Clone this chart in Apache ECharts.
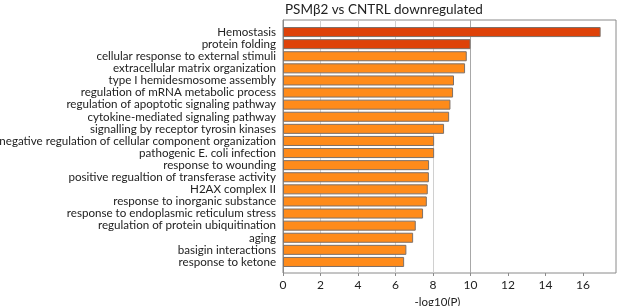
<!DOCTYPE html>
<html>
<head>
<meta charset="utf-8">
<script src="https://cdn.jsdelivr.net/npm/echarts@6/dist/echarts.min.js"></script>
<style>
  html, body { margin: 0; padding: 0; background: #fff; }
  #main { width: 617px; height: 306px; }
</style>
</head>
<body>
<div id="main"></div>
<script>
// terms, top to bottom
var terms = [
    'Hemostasis',
    'protein folding',
    'cellular response to external stimuli',
    'extracellular matrix organization',
    'type I hemidesmosome assembly',
    'regulation of mRNA metabolic process',
    'regulation of apoptotic signaling pathway',
    'cytokine-mediated signaling pathway',
    'signalling by receptor tyrosin kinases',
    'negative regulation of cellular component organization',
    'pathogenic E. coli infection',
    'response to wounding',
    'positive regualtion of transferase activity',
    'H2AX complex II',
    'response to inorganic substance',
    'response to endoplasmic reticulum stress',
    'regulation of protein ubiquitination',
    'aging',
    'basigin interactions',
    'response to ketone'
];
// -log10(P)
var logP = [16.94, 10.0, 9.8, 9.71, 9.12, 9.07, 8.93, 8.86, 8.59, 8.06,
            8.06, 7.79, 7.78, 7.72, 7.67, 7.47, 7.08, 6.94, 6.58, 6.46];
var xTicks = [0, 2, 4, 6, 8, 10, 12, 14, 16];
var xMax = 17.76;

var myChart = echarts.init(document.getElementById('main'));

var fontFam = 'Lato, "Open Sans", sans-serif';
var none = 'rgba(0,0,0,0)';

option = {
    animation: false,
    title: {
        text: 'PSMβ2 vs CNTRL downregulated',
        left: 280,
        top: -2,
        textStyle: {
            fontFamily: fontFam,
            fontSize: 13.5,
            fontWeight: 'normal',
            color: '#222'
        }
    },
    // grid 0: frame + value axis, grid 1: the bars
    grid: [{
        left: 283,
        right: 1,
        top: 20,
        bottom: 33,
        show: true,
        borderColor: '#8a8a8a',
        borderWidth: 1,
        outerBoundsMode: 'none'
    }, {
        left: 283,
        right: 1,
        top: 26,
        bottom: 38,
        outerBoundsMode: 'none'
    }],
    xAxis: [{
        gridIndex: 0,
        type: 'value',
        min: 0,
        max: xMax,
        interval: 2,
        name: '-log10(P)',
        nameLocation: 'middle',
        nameGap: 22,
        nameTextStyle: {
            fontFamily: fontFam,
            fontSize: 11.5,
            color: '#222',
            padding: [0, 24, 0, 0]
        },
        axisLine: { lineStyle: { color: '#8a8a8a' } },
        axisTick: { show: true, length: 3, lineStyle: { color: '#8a8a8a' } },
        axisLabel: {
            fontFamily: fontFam,
            fontSize: 12,
            color: '#222',
            margin: 6,
            showMaxLabel: false,
            formatter: function(v) {
                return xTicks.indexOf(v) >= 0 ? String(v) : '';
            }
        },
        splitLine: {
            show: true,
            lineStyle: {
                color: [none, '#d0d0d0', '#d0d0d0', '#d0d0d0', '#d0d0d0', '#a8a8a8',
                        none, none, none, none]
            }
        }
    }, {
        gridIndex: 1,
        type: 'value',
        min: 0,
        max: xMax,
        show: false
    }],
    yAxis: [{
        gridIndex: 0,
        type: 'category',
        data: [''],
        axisLine: { lineStyle: { color: '#8a8a8a' } },
        axisTick: { show: false },
        axisLabel: { show: false }
    }, {
        gridIndex: 1,
        type: 'category',
        data: terms,
        inverse: true,
        axisLine: { show: false },
        axisTick: { show: false },
        axisLabel: {
            fontFamily: fontFam,
            fontSize: 11.6,
            color: '#222',
            margin: 7,
            interval: 0
        }
    }],
    series: [{
        type: 'bar',
        xAxisIndex: 1,
        yAxisIndex: 1,
        data: logP.map(function(v, i) {
            return {
                value: v,
                itemStyle: { color: i < 2 ? '#de4209' : '#ff8b1a' }
            };
        }),
        barCategoryGap: '17%',
        itemStyle: {
            borderColor: '#7d7068',
            borderWidth: 1
        }
    }]
};
myChart.setOption(option);
</script>
</body>
</html>
